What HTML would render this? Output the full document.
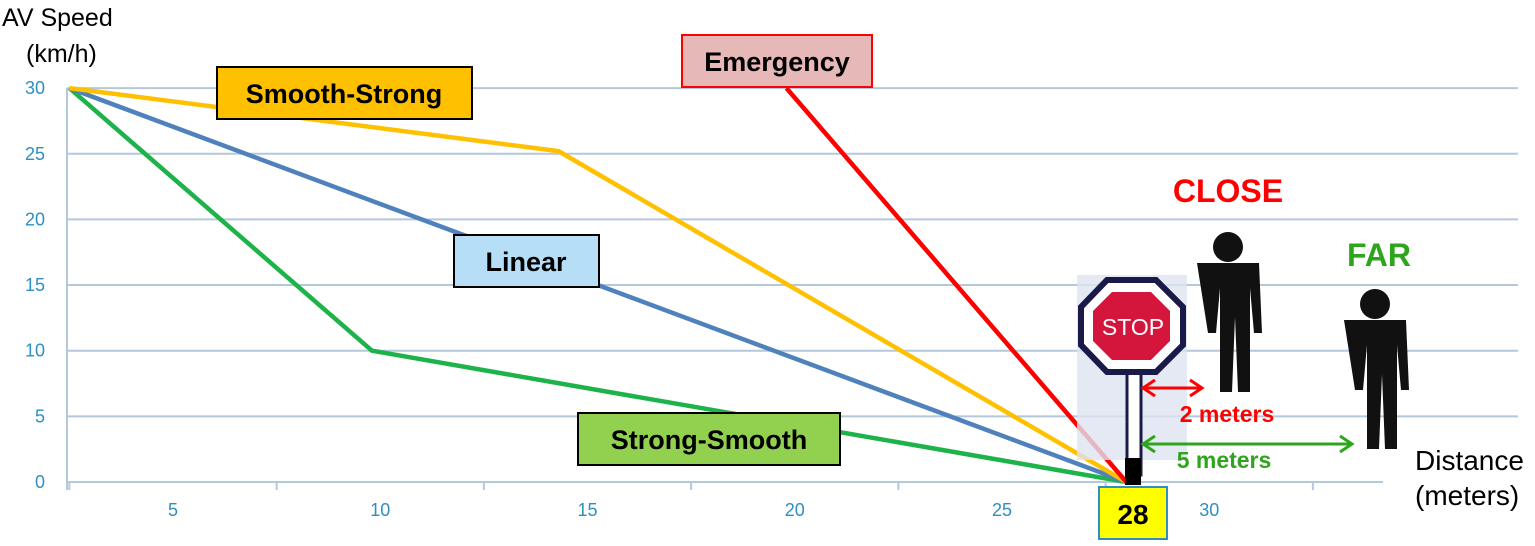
<!DOCTYPE html>
<html><head><meta charset="utf-8"><style>
body{margin:0;background:#fff;}
svg{display:block;font-family:"Liberation Sans",sans-serif;}
</style></head><body>
<svg id="c" width="1535" height="546" viewBox="0 0 1535 546">
<g id="grid"></g>
<g id="series"></g>
<g id="decor"></g>
</svg>
<script>
const yTicks=[0,5,10,15,20,25,30];
const xTicks=[5,10,15,20,25,30];
const linearX=[2.5,28];const linearY=[30,0];
const smoothStrongX=[2.5,14.3,28];const smoothStrongY=[30,25.2,0];
const strongSmoothX=[2.5,9.8,28];const strongSmoothY=[30,10,0];
const emergencyX=[19.8,28];const emergencyY=[30,0];
const NS='http://www.w3.org/2000/svg';
function X(v){return 173+(v-5)*41.45;}
function Y(v){return 482-v*13.13;}
function mk(tag,attrs,parent,text){const e=document.createElementNS(NS,tag);for(const k in attrs)e.setAttribute(k,attrs[k]);if(text!==undefined)e.textContent=text;parent.appendChild(e);return e;}
const grid=document.getElementById('grid');
yTicks.forEach(t=>{
 const l=mk('line',{x1:67,x2:t===0?1383:1518,y1:Y(t),y2:Y(t),stroke:'#b4c8dc','stroke-width':2},grid);
 
 
 const tx=mk('text',{x:45,y:Y(t)+6,'text-anchor':'end','font-size':18,fill:'#2f8fc0'},grid,String(t));
 
 
});
mk('line',{x1:67,x2:67,y1:88,y2:490,stroke:'#b4c8dc','stroke-width':2},grid);
[2.5,7.5,12.5,17.5,22.5,27.5,32.5].forEach(v=>mk('line',{x1:X(v),x2:X(v),y1:482,y2:490,stroke:'#b4c8dc','stroke-width':2},grid));
xTicks.forEach(t=>{
 const tx=mk('text',{x:X(t),y:516,'text-anchor':'middle','font-size':18,fill:'#2f8fc0'},grid,String(t));
 
 
});
const ser=document.getElementById('series');
function line(xs,ys,col,name){
 const p=mk('polyline',{points:xs.map((x,i)=>X(x)+','+Y(ys[i])).join(' '),fill:'none',stroke:col,'stroke-width':4.5,'stroke-linejoin':'round'},ser);
 
 
}
line(strongSmoothX,strongSmoothY,'#1db34a','strong-smooth-line');
line(linearX,linearY,'#4f81bd','linear-line');
line(smoothStrongX,smoothStrongY,'#ffc000','smooth-strong-line');
line(emergencyX,emergencyY,'#ff0000','emergency-line');
</script>
<svg style="position:absolute;left:0;top:0" width="1535" height="546">
<text x="2" y="26" font-size="25">AV Speed</text>
<text x="26" y="62" font-size="25">(km/h)</text>
<text x="1415" y="470" font-size="28">Distance</text>
<text x="1415" y="505" font-size="28">(meters)</text>
<g><rect x="217" y="67" width="255" height="52" fill="#ffc000" stroke="#000" stroke-width="2"/><text x="344" y="103" text-anchor="middle" font-size="27" font-weight="bold">Smooth-Strong</text></g>
<g><rect x="682" y="35" width="190" height="52" fill="#e6b8b7" stroke="#ff0000" stroke-width="2"/><text x="777" y="71" text-anchor="middle" font-size="27" font-weight="bold">Emergency</text></g>
<g><rect x="454" y="235" width="145" height="52" fill="#b7def7" stroke="#000" stroke-width="2"/><text x="526" y="271" text-anchor="middle" font-size="27" font-weight="bold">Linear</text></g>
<g><rect x="578" y="413" width="262" height="52" fill="#92d050" stroke="#000" stroke-width="2"/><text x="709" y="449" text-anchor="middle" font-size="27" font-weight="bold">Strong-Smooth</text></g>
<g>
<rect x="1077" y="275" width="110" height="185" fill="#dfe3f0" opacity="0.8"/>
<rect x="1127" y="365" width="14" height="110" fill="#fff" stroke="#1a1a4a" stroke-width="3"/>
<rect x="1125" y="458" width="16" height="27" fill="#000"/>
<polygon points="1107,280 1156,280 1183,307 1183,345 1156,372 1107,372 1081,345 1081,307" fill="#fff" stroke="#1a1a4a" stroke-width="6"/>
<polygon points="1112,292 1151,292 1170,311 1170,341 1151,360 1112,360 1093,341 1093,311" fill="#d4163c"/>
<text x="1133" y="335" text-anchor="middle" font-size="23" fill="#fff">STOP</text>
</g>
<g><circle cx="1228" cy="247" r="15" fill="#111"/><path d="M1197 263h62l3 70h-8l-4-45v104h-12l-3-75-3 75h-12v-104l-4 45h-8z" fill="#111"/></g>
<g><circle cx="1375" cy="304" r="15" fill="#111"/><path d="M1344 320h62l3 70h-8l-4-45v104h-12l-3-75-3 75h-12v-104l-4 45h-8z" fill="#111"/></g>
<text x="1228" y="202" text-anchor="middle" font-size="32" font-weight="bold" fill="#ff0000">CLOSE</text>
<text x="1379" y="266" text-anchor="middle" font-size="32" font-weight="bold" fill="#2ea51c">FAR</text>
<g stroke="#ff0000" stroke-width="3" fill="none"><line x1="1143" y1="388" x2="1202" y2="388"/><polyline points="1155,380 1143,388 1155,396"/><polyline points="1190,380 1202,388 1190,396"/></g>
<text x="1227" y="422" text-anchor="middle" font-size="23" font-weight="bold" fill="#ff0000">2 meters</text>
<g stroke="#2ea51c" stroke-width="3" fill="none"><line x1="1143" y1="444" x2="1352" y2="444"/><polyline points="1155,436 1143,444 1155,452"/><polyline points="1340,436 1352,444 1340,452"/></g>
<text x="1224" y="468" text-anchor="middle" font-size="23" font-weight="bold" fill="#2ea51c">5 meters</text>
<g><rect x="1099" y="487" width="68" height="52" fill="#ffff00" stroke="#2f8fc0" stroke-width="2"/><text x="1133" y="524" text-anchor="middle" font-size="28" font-weight="bold">28</text></g>
</svg>
</body></html>
